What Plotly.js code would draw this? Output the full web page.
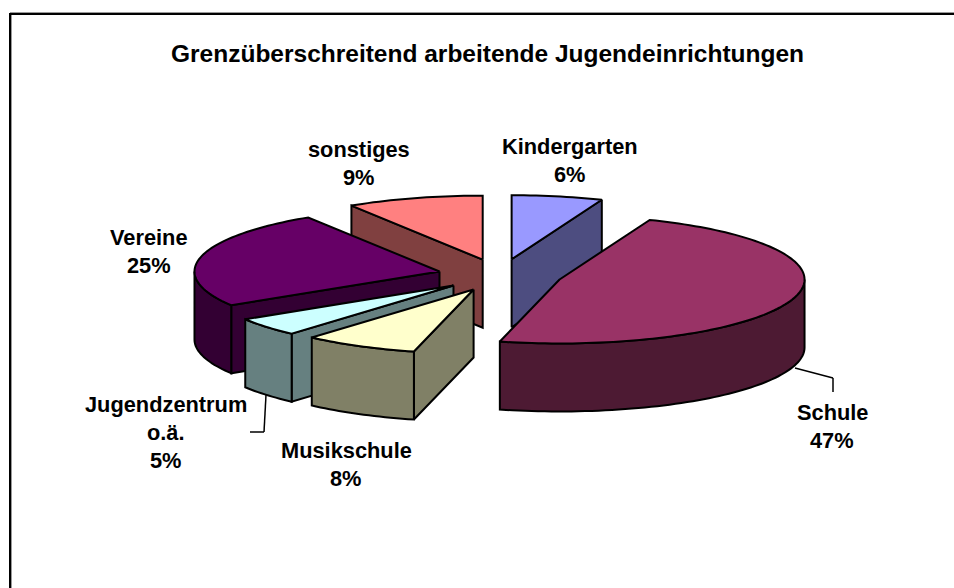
<!DOCTYPE html>
<html>
<head>
<meta charset="utf-8">
<script src="https://cdn.plot.ly/plotly-3.0.1.min.js"></script>
<style>html,body{margin:0;padding:0;background:#fff}#chart{width:954px;height:588px}</style>
</head>
<body>
<div id="chart"></div>
<script>
var chartTitle = "Grenzüberschreitend arbeitende Jugendeinrichtungen";
var categories = ["Kindergarten", "Schule", "Musikschule", "Jugendzentrum o.ä.", "Vereine", "sonstiges"];
var values = [6, 47, 8, 5, 25, 9];
var topColors = ["#9999FF", "#993366", "#FFFFCC", "#CCFFFF", "#660066", "#FF8080"];
var sideColors = ["#4D4D80", "#4D1A33", "#808066", "#668080", "#330033", "#804040"];
var labelLines = [["Kindergarten"], ["Schule"], ["Musikschule"], ["Jugendzentrum", "o.ä."], ["Vereine"], ["sonstiges"]];
var labelCenters = [[570, 146], [832, 412], [346, 450], [166, 404], [149, 237], [359, 149]];
var drawOrder = [5, 0, 4, 3, 2, 1];

// pie projection (axis units equal screen pixels)
var cx = 500, cy = 275, rx = 245, ry = 64, depth = 68, pullX = 62, pullY = 16;

var rad = Math.PI / 180;
function warp(t) { return t + 3.3 * Math.exp(-Math.pow((t - 190.8) / 36, 2)); }
function rimPoint(ax, t, dz) {
  var w = warp(t) * rad;
  return [ax[0] + rx * Math.sin(w), ax[1] - ry * Math.cos(w) + dz];
}
function arc(ax, a, b, dz) {
  var pts = [], n = Math.max(2, Math.ceil((b - a) / 1.5));
  for (var i = 0; i <= n; i++) pts.push(rimPoint(ax, a + (b - a) * i / n, dz));
  return pts;
}
function poly(pts, fill) {
  return {
    type: "scatter", mode: "lines", fill: "toself", fillcolor: fill,
    x: pts.map(function (p) { return p[0]; }).concat([pts[0][0]]),
    y: pts.map(function (p) { return p[1]; }).concat([pts[0][1]]),
    line: { color: "#000", width: 2, simplify: false },
    hoverinfo: "skip", showlegend: false
  };
}

var total = values.reduce(function (s, v) { return s + v; }, 0);
var wedges = [], acc = 0;
values.forEach(function (v) {
  var a = acc / total * 360, b = (acc + v) / total * 360, m = (a + b) / 2 * rad;
  wedges.push({ a: a, b: b, apex: [cx + pullX * Math.sin(m), cy - pullY * Math.cos(m)] });
  acc += v;
});

var traces = [];
drawOrder.forEach(function (i) {
  var w = wedges[i], ax = w.apex;
  function cut(t) {
    var e = rimPoint(ax, t, 0);
    return poly([ax, e, [e[0], e[1] + depth], [ax[0], ax[1] + depth]], sideColors[i]);
  }
  if (w.a > 180 && w.a < 360) traces.push(cut(w.a));
  if (w.b > 0 && w.b < 180) traces.push(cut(w.b));
  var f = Math.max(w.a, 90), g = Math.min(w.b, 270);
  if (g > f) traces.push(poly(arc(ax, f, g, 0).concat(arc(ax, f, g, depth).reverse()), sideColors[i]));
  traces.push(poly([ax].concat(arc(ax, w.a, w.b, 0)), topColors[i]));
});

var annotations = [];
labelLines.forEach(function (lines, i) {
  lines.concat([values[i] + "%"]).forEach(function (t, k) {
    annotations.push({
      xref: "x", yref: "y", x: labelCenters[i][0], y: labelCenters[i][1] + k * 28,
      text: "<b>" + t + "</b>", showarrow: false, xanchor: "center", yanchor: "middle",
      font: { family: "Liberation Sans, Arial, sans-serif", size: 21.8, color: "#000" }
    });
  });
});
annotations.push({
  xref: "x", yref: "y", x: 487.5, y: 53, text: "<b>" + chartTitle + "</b>", showarrow: false,
  xanchor: "center", yanchor: "middle",
  font: { family: "Liberation Sans, Arial, sans-serif", size: 24.5, color: "#000" }
});

function seg(x0, y0, x1, y1, w, c) {
  return { type: "line", xref: "x", yref: "y", x0: x0, y0: y0, x1: x1, y1: y1, line: { color: c || "#000", width: w } };
}
var shapes = [
  seg(10, 12.5, 954, 12.5, 1, "#999"), seg(11.5, 14, 11.5, 588, 1, "#999"),
  seg(10, 14, 954, 14, 2), seg(10, 13, 10, 588, 2),
  seg(795, 368, 833, 378, 1.5), seg(833, 378, 833, 392, 1.5),
  seg(266, 395, 264, 432, 1.5), seg(264, 432, 250, 432, 1.5)
];

Plotly.newPlot("chart", traces, {
  width: 954, height: 588, autosize: false,
  margin: { l: 0, r: 0, t: 0, b: 0 },
  paper_bgcolor: "#fff", plot_bgcolor: "#fff", showlegend: false,
  xaxis: { range: [0, 954], visible: false, fixedrange: true },
  yaxis: { range: [588, 0], visible: false, fixedrange: true },
  annotations: annotations, shapes: shapes
}, { displayModeBar: false, staticPlot: true });
</script>
</body>
</html>
